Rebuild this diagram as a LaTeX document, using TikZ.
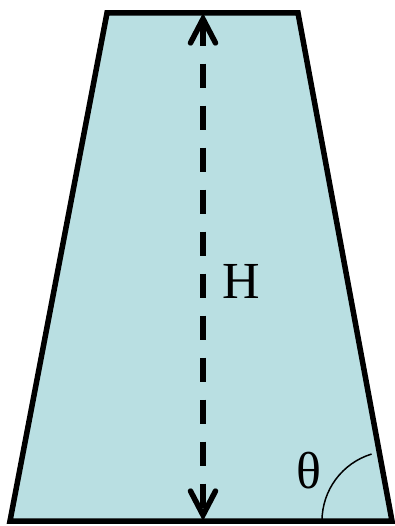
\documentclass[tikz,border=0pt]{standalone}
\usepackage{fontspec}
\setmainfont{Liberation Serif}
\usetikzlibrary{arrows.meta}
\definecolor{fillblue}{HTML}{B9DFE2}
\begin{document}
\begin{tikzpicture}[x=1pt,y=-1pt,
  edge/.style={line width=5.5pt,line join=miter},
  harrow/.style={line width=5.5pt,dash pattern=on 24pt off 18pt,
    {Straight Barb[length=24pt,width=25pt,line width=5.5pt,line cap=round]}-{Straight Barb[length=24pt,width=25pt,line width=5.5pt,line cap=round]}},
  lab/.style={font=\fontsize{52}{52}\selectfont,inner sep=0pt}]
\useasboundingbox (0,0) rectangle (394,526);
\coordinate (tl) at (107,13);
\coordinate (tr) at (298,13);
\coordinate (br) at (392,521);
\coordinate (bl) at (10,521);
\coordinate (top) at (203,13);
\coordinate (bot) at (203,521);
\filldraw[edge,fill=fillblue] (tl) -- (tr) -- (br) -- (bl) -- cycle;
\draw[harrow] (top) -- (bot);
\node[lab] (H) at (241,281) {H};
\node[lab] (theta) at (309,471) {θ};
\draw[line width=1.5pt] (br) ++(180:70) arc[start angle=180,end angle=253,radius=70];
\end{tikzpicture}
\end{document}
